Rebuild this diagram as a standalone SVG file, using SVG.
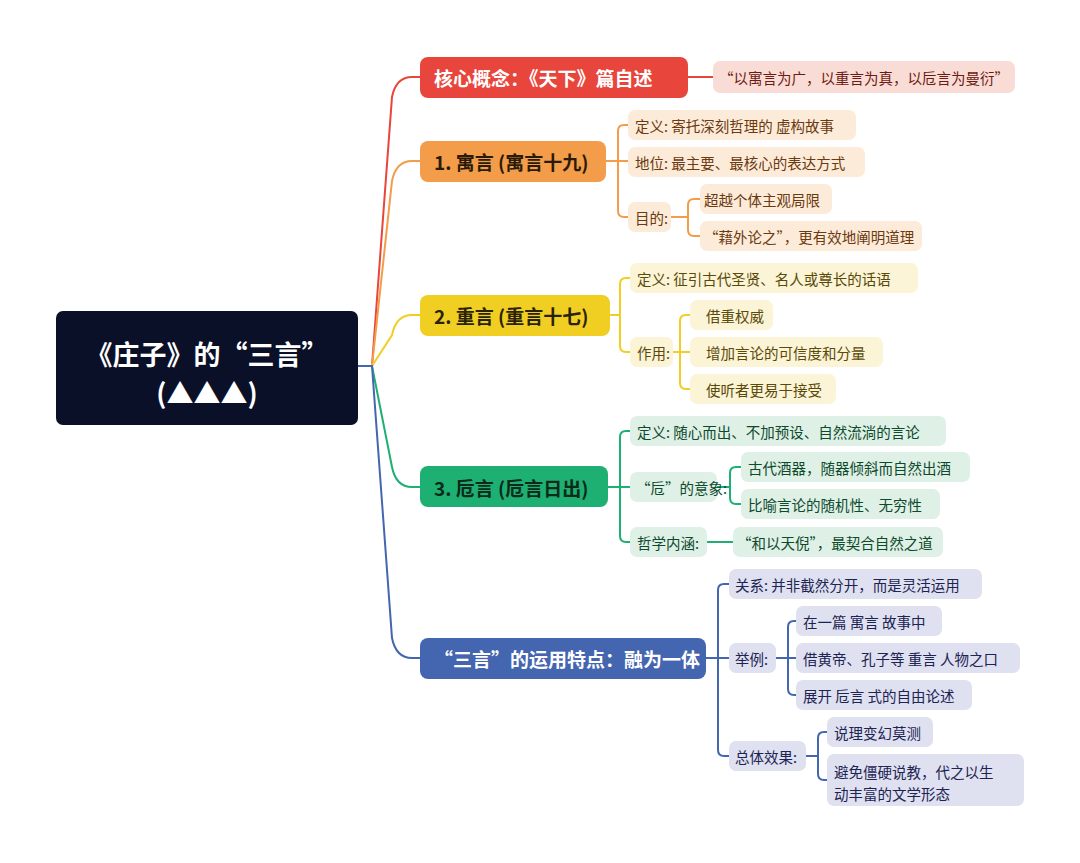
<svg xmlns="http://www.w3.org/2000/svg" width="1080" height="863" viewBox="0 0 1080 863">
<style>
text{font-family:"Noto Sans CJK SC","Noto Sans",sans-serif}
.m{font-size:19px;font-weight:bold;dominant-baseline:central}
.l{font-size:14.5px;dominant-baseline:central}
.c path{fill:none;stroke-width:2}
.r path{stroke:#e8453c}.o path{stroke:#f39c4a}.y path{stroke:#f0cf22}.g path{stroke:#1eaf72}.b path{stroke:#4466b0}
.lr{fill:#fadcd6}.tr{fill:#6b1b12}
.lo{fill:#fdebd9}.to{fill:#6b3a10}
.ly{fill:#fbf4d6}.ty{fill:#5a4a0a}
.lg{fill:#dff0e6}.tg{fill:#0d4a2c}
.lb{fill:#dfe0f0}.tb{fill:#1c2452}
</style>
<rect width="1080" height="863" fill="#fff"/>
<g id="connectors" class="c">
<g class="r"><path d="M358,366 H372 L392,97 Q396,77 412,77 H420"/><path d="M688,77 H713"/></g>
<g class="o"><path d="M372,366 L392,181 Q396,161 412,161 H420"/>
<path d="M606,161 H618"/><path d="M618,161 V131 Q618,125 624,125 H628"/><path d="M618,161 H628"/><path d="M618,161 V211 Q618,217 624,217 H628"/>
<path d="M671,217 H688"/><path d="M688,217 V205 Q688,199 694,199 H700"/><path d="M688,217 V230 Q688,236 694,236 H700"/></g>
<g class="y"><path d="M372,366 L392,335 Q396,315 412,315 H420"/>
<path d="M610,315 H620"/><path d="M620,315 V284 Q620,278 626,278 H630"/><path d="M620,315 V346 Q620,352 626,352 H630"/>
<path d="M673,352 H680"/><path d="M680,352 V321 Q680,315 686,315 H690"/><path d="M680,352 H690"/><path d="M680,352 V383 Q680,389 686,389 H690"/></g>
<g class="g"><path d="M372,366 L392,467 Q396,487 412,487 H420"/>
<path d="M608,487 H620"/><path d="M620,487 V437 Q620,431 626,431 H630"/><path d="M620,487 H630"/><path d="M620,487 V536 Q620,542 626,542 H630"/>
<path d="M717,487 H730"/><path d="M730,487 V473 Q730,467 736,467 H741"/><path d="M730,487 V498 Q730,504 736,504 H741"/>
<path d="M707,542 H733"/></g>
<g class="b"><path d="M358,366 H372 L392,638 Q396,658 412,658 H420"/>
<path d="M706,658 H718"/><path d="M718,658 V590 Q718,584 724,584 H729"/><path d="M718,658 H729"/><path d="M718,658 V750 Q718,756 724,756 H729"/>
<path d="M776,658 H788"/><path d="M788,658 V627 Q788,621 794,621 H796"/><path d="M788,658 H796"/><path d="M788,658 V689 Q788,695 794,695 H796"/>
<path d="M806,756 H818"/><path d="M818,756 V738 Q818,732 824,732 H827"/><path d="M818,756 V774 Q818,780 824,780 H827"/></g>
</g>
<g id="root"><rect x="56" y="311" width="302" height="114" rx="7" fill="#0b1029"/>
<text x="207" y="353" text-anchor="middle" font-size="27" font-weight="bold" fill="#fff" dominant-baseline="central">《庄子》的“三言”</text>
<text x="207" y="392" text-anchor="middle" font-size="27" font-weight="bold" fill="#fff" dominant-baseline="central">(▲▲▲)</text></g>
<g id="n-core"><rect x="420" y="57" width="268" height="41" rx="8" fill="#e8453c"/><text class="m" x="434" y="77" fill="#fff">核心概念：《天下》篇自述</text></g>
<g id="n-core-1"><rect class="lr" x="713" y="61" width="302" height="32" rx="7"/><text class="l tr" x="719" y="77">“以寓言为广，以重言为真，以卮言为曼衍”</text></g>
<g id="n-yu"><rect x="420" y="141" width="186" height="41" rx="8" fill="#f39c4a"/><text class="m" x="434" y="161" fill="#2a1a08">1. 寓言 (寓言十九)</text></g>
<g id="n-yu-1"><rect class="lo" x="628" y="110" width="228" height="30" rx="7"/><text class="l to" x="635" y="125">定义: 寄托深刻哲理的 虚构故事</text></g>
<g id="n-yu-2"><rect class="lo" x="628" y="147" width="237" height="30" rx="7"/><text class="l to" x="635" y="162">地位: 最主要、最核心的表达方式</text></g>
<g id="n-yu-3"><rect class="lo" x="628" y="202" width="43" height="30" rx="7"/><text class="l to" x="635" y="217">目的:</text></g>
<g id="n-yu-3a"><rect class="lo" x="700" y="184" width="132" height="30" rx="7"/><text class="l to" x="704" y="199">超越个体主观局限</text></g>
<g id="n-yu-3b"><rect class="lo" x="700" y="221" width="222" height="30" rx="7"/><text class="l to" x="704" y="236">“藉外论之”，更有效地阐明道理</text></g>
<g id="n-zhong"><rect x="420" y="295" width="190" height="41" rx="8" fill="#f0cf22"/><text class="m" x="434" y="315" fill="#2a2208">2. 重言 (重言十七)</text></g>
<g id="n-zhong-1"><rect class="ly" x="630" y="263" width="288" height="30" rx="7"/><text class="l ty" x="637" y="278">定义: 征引古代圣贤、名人或尊长的话语</text></g>
<g id="n-zhong-2"><rect class="ly" x="630" y="337" width="43" height="30" rx="7"/><text class="l ty" x="637" y="352">作用:</text></g>
<g id="n-zhong-2a"><rect class="ly" x="690" y="300" width="83" height="30" rx="7"/><text class="l ty" x="706" y="315">借重权威</text></g>
<g id="n-zhong-2b"><rect class="ly" x="690" y="337" width="193" height="30" rx="7"/><text class="l ty" x="706" y="352">增加言论的可信度和分量</text></g>
<g id="n-zhong-2c"><rect class="ly" x="690" y="374" width="146" height="30" rx="7"/><text class="l ty" x="706" y="389">使听者更易于接受</text></g>
<g id="n-zhi"><rect x="420" y="466" width="188" height="41" rx="8" fill="#1eaf72"/><text class="m" x="434" y="487" fill="#0a2a1a">3. 卮言 (卮言日出)</text></g>
<g id="n-zhi-1"><rect class="lg" x="630" y="416" width="316" height="30" rx="7"/><text class="l tg" x="637" y="431">定义: 随心而出、不加预设、自然流淌的言论</text></g>
<g id="n-zhi-2"><rect class="lg" x="630" y="472" width="87" height="30" rx="7"/><text class="l tg" x="636" y="487">“卮”的意象:</text></g>
<g id="n-zhi-2a"><rect class="lg" x="741" y="452" width="229" height="30" rx="7"/><text class="l tg" x="748" y="467">古代酒器，随器倾斜而自然出酒</text></g>
<g id="n-zhi-2b"><rect class="lg" x="741" y="489" width="199" height="30" rx="7"/><text class="l tg" x="748" y="504">比喻言论的随机性、无穷性</text></g>
<g id="n-zhi-3"><rect class="lg" x="630" y="527" width="77" height="30" rx="7"/><text class="l tg" x="637" y="542">哲学内涵:</text></g>
<g id="n-zhi-3a"><rect class="lg" x="733" y="527" width="210" height="30" rx="7"/><text class="l tg" x="737" y="542">“和以天倪”，最契合自然之道</text></g>
<g id="n-use"><rect x="420" y="638" width="286" height="41" rx="8" fill="#4466b0"/><text class="m" x="434" y="658" fill="#fff">“三言”的运用特点：融为一体</text></g>
<g id="n-use-1"><rect class="lb" x="729" y="569" width="253" height="30" rx="7"/><text class="l tb" x="735" y="584">关系: 并非截然分开，而是灵活运用</text></g>
<g id="n-use-2"><rect class="lb" x="729" y="643" width="47" height="30" rx="7"/><text class="l tb" x="735" y="658">举例:</text></g>
<g id="n-use-2a"><rect class="lb" x="796" y="606" width="146" height="30" rx="7"/><text class="l tb" x="803" y="621">在一篇 寓言 故事中</text></g>
<g id="n-use-2b"><rect class="lb" x="796" y="643" width="224" height="30" rx="7"/><text class="l tb" x="803" y="658">借黄帝、孔子等 重言 人物之口</text></g>
<g id="n-use-2c"><rect class="lb" x="796" y="680" width="176" height="30" rx="7"/><text class="l tb" x="803" y="695">展开 卮言 式的自由论述</text></g>
<g id="n-use-3"><rect class="lb" x="729" y="741" width="77" height="30" rx="7"/><text class="l tb" x="735" y="756">总体效果:</text></g>
<g id="n-use-3a"><rect class="lb" x="827" y="717" width="106" height="30" rx="7"/><text class="l tb" x="834" y="732">说理变幻莫测</text></g>
<g id="n-use-3b"><rect class="lb" x="827" y="754" width="197" height="52" rx="7"/><text class="l tb" x="834" y="771">避免僵硬说教，代之以生</text><text class="l tb" x="834" y="793">动丰富的文学形态</text></g>
</svg>
